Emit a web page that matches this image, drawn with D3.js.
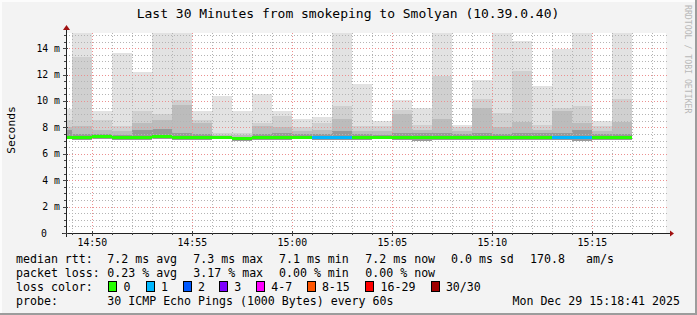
<!DOCTYPE html>
<html><head><meta charset="utf-8">
<script src="https://cdn.jsdelivr.net/npm/d3@7/dist/d3.min.js"></script>
<style>
html,body{margin:0;padding:0;background:#f3f3f3;}
svg{display:block;}
text{font-family:"DejaVu Sans Mono",monospace;fill:#000;}
</style></head>
<body>
<script>
// ---- data ----
const minutes = ["14:48","14:49","14:50","14:51","14:52","14:53","14:54","14:55","14:56","14:57",
  "14:58","14:59","15:00","15:01","15:02","15:03","15:04","15:05","15:06","15:07",
  "15:08","15:09","15:10","15:11","15:12","15:13","15:14","15:15","15:16"];
const rttMax = [9.4,16.5,9.24,13.6,12.2,16.0,16.8,9.24,10.4,9.24,10.55,9.24,8.64,8.8,16.2,11.3,8.5,10.1,9.5,16.4,8.2,11.6,16.6,14.55,11.1,13.96,16.1,8.5,16.3];
const rttHi2 = [8.56,13.3,8.56,8.1,9.27,9.0,10.1,8.56,7.6,7.6,8.3,8.9,8.05,8.3,9.6,8.1,8.1,9.3,8.2,11.9,8.0,10.15,9.1,12.3,8.2,9.5,9.6,8.1,10.15];
const rttHi3 = [8.0,8.1,7.8,7.7,8.3,8.56,9.7,8.3,7.45,7.45,8.1,8.0,7.7,7.8,8.65,7.7,7.7,9.0,7.8,8.65,7.7,9.5,8.0,8.4,7.8,9.27,8.3,7.7,8.4];
const rttHi4 = [7.8,7.5,7.5,7.4,7.8,7.9,7.6,7.5,7.35,7.3,7.5,7.6,7.5,7.5,7.7,7.5,7.4,7.6,7.6,7.6,7.5,7.6,7.5,7.6,7.6,7.6,7.8,7.5,7.5];
const rttMedian = [7.2,7.2,7.28,7.2,7.2,7.28,7.2,7.2,7.2,7.15,7.2,7.2,7.2,7.2,7.2,7.2,7.2,7.2,7.2,7.2,7.2,7.2,7.2,7.2,7.2,7.2,7.2,7.2,7.2];
const rttMin = [7.1,7.05,7.1,7.05,7.05,7.1,7.05,7.05,7.1,7.0,7.05,7.05,7.1,7.05,7.05,7.05,7.1,7.05,7.0,7.05,7.05,7.05,7.05,7.05,7.05,7.05,7.0,7.05,7.05];
const lossCount = [0,0,0,0,0,0,0,0,0,0,0,0,0,1,1,0,0,0,0,0,0,0,0,0,0,1,1,0,0];
const yTicks = [0,2,4,6,8,10,12,14];
const xTickLabels = ["14:50","14:55","15:00","15:05","15:10","15:15"];
const lossLegend = ["0","1","2","3","4-7","8-15","16-29","30/30"];
const lossColors = ["#26ff00","#00b8ff","#0059ff","#7e00ff","#ff00ff","#ff5500","#ff0000","#a00000"];
const titleText = "Last 30 Minutes from smokeping to Smolyan (10.39.0.40)";
const legendRows = [
  ["median rtt:", "7.2 ms avg", "7.3 ms max", "7.1 ms min", "7.2 ms now", "0.0 ms sd", "170.8", "am/s"],
  ["packet loss:", "0.23 % avg", "3.17 % max", "0.00 % min", "0.00 % now"]
];
const probeText = "30 ICMP Echo Pings (1000 Bytes) every 60s";
const stampText = "Mon Dec 29 15:18:41 2025";

// ---- layout ----
const W = 697, H = 315;
const L = 66, R = 666, T = 33, B = 233;
const parse = d3.timeParse("%Y-%m-%d %H:%M:%S");
const t0 = parse("2025-12-29 14:48:41"), t1 = parse("2025-12-29 15:18:41");
const x = d3.scaleTime().domain([t0, t1]).range([L, R]);
const y = d3.scaleLinear().domain([0, 15.15]).range([B, T]);

const svg = d3.select("body").append("svg").attr("width", W).attr("height", H);
svg.append("rect").attr("width", W).attr("height", H).attr("fill", "#f3f3f3");
// 3D border
svg.append("rect").attr("x",0).attr("y",0).attr("width",W).attr("height",2).attr("fill","#fcfcfc");
svg.append("rect").attr("x",0).attr("y",0).attr("width",2).attr("height",H).attr("fill","#fcfcfc");
svg.append("rect").attr("x",0).attr("y",H-2).attr("width",W).attr("height",2).attr("fill","#9c9c9c");
svg.append("rect").attr("x",W-2).attr("y",0).attr("width",2).attr("height",H).attr("fill","#9c9c9c");

svg.append("rect").attr("x", L).attr("y", T).attr("width", R - L).attr("height", B - T).attr("fill", "#fff");

svg.append("defs").append("clipPath").attr("id","clip")
  .append("rect").attr("x", L).attr("y", T).attr("width", R - L).attr("height", B - T);

const bars = minutes.map((m, i) => {
  const s = parse("2025-12-29 " + m + ":00");
  return {i, s: s < t0 ? t0 : s, e: new Date(s.getTime() + 60000)};
});

const smoke = svg.append("g").attr("clip-path", "url(#clip)");
const layers = [[rttMax, "#e2e2e2"], [rttHi2, "#d0d0d0"], [rttHi3, "#bcbcbc"], [rttHi4, "#999999"]];
layers.forEach(([arr, col]) => {
  smoke.selectAll(null).data(bars).enter().append("rect")
    .attr("x", d => x(d.s)).attr("width", d => x(d.e) - x(d.s))
    .attr("y", d => y(arr[d.i])).attr("height", d => y(rttMin[d.i]) - y(arr[d.i]))
    .attr("fill", col).attr("shape-rendering", "crispEdges");
});

// grid
const grid = svg.append("g").attr("shape-rendering", "crispEdges");
const minorY = d3.range(0.5, 15.1, 0.5).filter(v => Math.abs(v % 2) > 0.01);
const minorCol = "#b4b4b4", majorCol = "#eb9090";
grid.selectAll(null).data(minorY).enter().append("line")
  .attr("x1", L).attr("x2", R + 2).attr("y1", d => Math.round(y(d)) + 0.5).attr("y2", d => Math.round(y(d)) + 0.5)
  .attr("stroke", minorCol).attr("stroke-dasharray", "1,2");
const minorX = d3.timeMinute.every(1).range(t0, t1).filter(d => d.getMinutes() % 5 !== 0);
grid.selectAll(null).data(minorX).enter().append("line")
  .attr("x1", d => Math.round(x(d)) + 0.5).attr("x2", d => Math.round(x(d)) + 0.5).attr("y1", T).attr("y2", B)
  .attr("stroke", minorCol).attr("stroke-dasharray", "1,2");
grid.selectAll(null).data(yTicks.slice(1)).enter().append("line")
  .attr("x1", L).attr("x2", R + 2).attr("y1", d => Math.round(y(d)) + 0.5).attr("y2", d => Math.round(y(d)) + 0.5)
  .attr("stroke", majorCol).attr("stroke-dasharray", "1,2");
const majorX = xTickLabels.map(s => parse("2025-12-29 " + s + ":00"));
grid.selectAll(null).data(majorX).enter().append("line")
  .attr("x1", d => Math.round(x(d)) + 0.5).attr("x2", d => Math.round(x(d)) + 0.5).attr("y1", T).attr("y2", B)
  .attr("stroke", majorCol).attr("stroke-dasharray", "1,2");

// median line
svg.append("g").selectAll(null).data(bars).enter().append("rect")
  .attr("x", d => x(d.s)).attr("width", d => x(d.e) - x(d.s))
  .attr("y", d => y(rttMedian[d.i]) - 1.5).attr("height", 3)
  .attr("fill", d => lossColors[Math.min(lossCount[d.i], 7)]).attr("shape-rendering", "crispEdges");

// axes
const ax = svg.append("g").attr("shape-rendering", "crispEdges");
ax.append("line").attr("x1", 62).attr("x2", 670).attr("y1", B + 0.5).attr("y2", B + 0.5).attr("stroke", "#222");
ax.append("line").attr("x1", L + 0.5).attr("x2", L + 0.5).attr("y1", B + 4).attr("y2", 29).attr("stroke", "#222");
svg.append("path").attr("d", `M${670},${B - 2.5}L${674},${B + 0.5}L${670},${B + 3.5}Z`).attr("fill", "#a01010");
svg.append("path").attr("d", `M${L - 3},${30}L${L + 0.5},${25}L${L + 4},${30}Z`).attr("fill", "#a01010");
// small ticks
ax.selectAll(null).data(minorY).enter().append("line")
  .attr("x1", L - 2).attr("x2", L).attr("y1", d => Math.round(y(d)) + 0.5).attr("y2", d => Math.round(y(d)) + 0.5).attr("stroke", "#444");
ax.selectAll(null).data(yTicks).enter().append("line")
  .attr("x1", L - 3).attr("x2", L + 2).attr("y1", d => Math.round(y(d)) + 0.5).attr("y2", d => Math.round(y(d)) + 0.5).attr("stroke", "#444");
ax.selectAll(null).data(minorX).enter().append("line")
  .attr("x1", d => Math.round(x(d)) + 0.5).attr("x2", d => Math.round(x(d)) + 0.5).attr("y1", B).attr("y2", B + 2).attr("stroke", "#444");
ax.selectAll(null).data(majorX).enter().append("line")
  .attr("x1", d => Math.round(x(d)) + 0.5).attr("x2", d => Math.round(x(d)) + 0.5).attr("y1", B - 2).attr("y2", B + 3).attr("stroke", "#444");

// tick labels
const tickFont = "9.8px";
svg.selectAll(null).data(yTicks).enter().append("text")
  .attr("x", d => d === 0 ? 47 : 60).attr("y", d => y(d) + 3.5).attr("text-anchor", "end")
  .style("font-size", tickFont).text(d => d === 0 ? "0" : d + " m");
svg.selectAll(null).data(majorX).enter().append("text")
  .attr("x", d => x(d)).attr("y", 246).attr("text-anchor", "middle")
  .style("font-size", tickFont).text((d, i) => xTickLabels[i]);

// title and labels
svg.append("text").attr("x", 348).attr("y", 18).attr("text-anchor", "middle").style("font-size", "13px").text(titleText);
svg.append("text").attr("transform", "translate(14.5,130) rotate(-90)").attr("text-anchor", "middle")
  .style("font-size", "11.3px").text("Seconds");
svg.append("text").attr("transform", "translate(685,5) rotate(90)").attr("text-anchor", "start")
  .style("font-size", "8.2px").style("fill", "#b8b8b8").text("RRDTOOL / TOBI OETIKER");

// legend
const lf = "11.6px";
const col1 = [16, 107.3, 193.3, 279, 365.3, 451, 530, 586];
legendRows.forEach((row, r) => {
  row.forEach((s, j) => {
    svg.append("text").attr("x", col1[j]).attr("y", 263 + r * 14).style("font-size", lf)
      .attr("xml:space", "preserve").text(s);
  });
});
svg.append("text").attr("x", 16).attr("y", 291).style("font-size", lf).text("loss color:");
const boxX = [108.3, 145.7, 182.7, 219, 256, 306.7, 365.3, 430.7];
lossLegend.forEach((s, i) => {
  svg.append("rect").attr("x", boxX[i] + 0.5).attr("y", 281.5).attr("width", 8).attr("height", 10)
    .attr("fill", lossColors[i]).attr("stroke", "#000").attr("shape-rendering", "crispEdges");
  svg.append("text").attr("x", boxX[i] + 15.2).attr("y", 291).style("font-size", lf).text(s);
});
svg.append("text").attr("x", 16).attr("y", 305).style("font-size", lf).text("probe:");
svg.append("text").attr("x", 107.3).attr("y", 305).style("font-size", lf).text(probeText);
svg.append("text").attr("x", 680).attr("y", 305).attr("text-anchor", "end").style("font-size", lf).text(stampText);
</script>
</body></html>
